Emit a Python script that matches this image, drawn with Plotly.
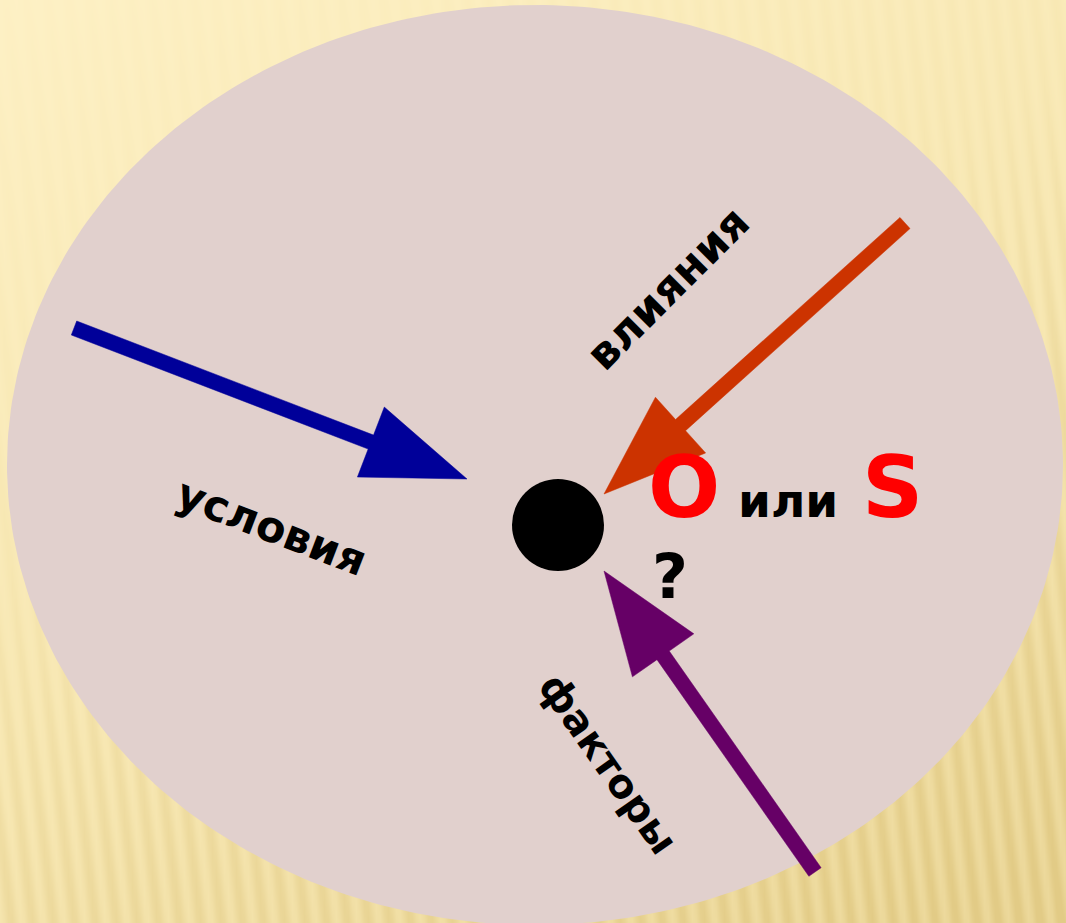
import numpy as np
import plotly.graph_objects as go

W, H = 1066, 923

# ---- diagram content ----
ellipse_box = [7, 5, 1063, 925]          # x0, y0, x1, y1
ellipse_color = "#E1D0CD"

arrow_names = ["условия", "влияния", "факторы"]
arrow_tails = [(74, 328), (905, 223), (815, 872)]
arrow_tips = [(467, 479), (604, 494), (604, 571)]
arrow_colors = ["#000099", "#CC3300", "#660066"]
shaft_width = 15
head_width = 75
head_length = 103

dot_center = (558, 525)
dot_diameter = 92

label_texts = ["условия", "влияния", "факторы"]
label_pos = [(272, 527), (667, 288), (608, 763)]
label_angles = [21, -45, 55]
label_sizes = [43, 44, 40]

letters = ["O", "или", "S", "?"]
letters_pos = [(684, 487), (788, 500), (892, 487), (670, 576)]
letters_colors = ["#FF0000", "#000000", "#FF0000", "#000000"]
letters_sizes = [85, 47, 85, 62]

FONT = "DejaVu Sans"

fig = go.Figure()

# ---- background texture (decorative) ----
bx = np.arange(-4, W + 8, 4)
by = np.arange(-8, H + 16, 8)
X, Y = np.meshgrid(bx, by)
t = np.clip(0.35 * X / W + 0.65 * Y / H, 0, 1)
stripe = np.sin(2 * np.pi * (X - 0.12 * Y) / 21.0)
z = t + 0.16 * (0.15 + t) * stripe
fig.add_trace(go.Heatmap(
    x=bx, y=by, z=z, zsmooth="best", showscale=False, hoverinfo="skip",
    colorscale=[[0, "#FEF1C6"], [0.45, "#F7E7B2"], [1, "#E2CB86"]],
    zmin=-0.05, zmax=1.1,
))

# ---- ellipse ----
cx = (ellipse_box[0] + ellipse_box[2]) / 2
cy = (ellipse_box[1] + ellipse_box[3]) / 2
ra = (ellipse_box[2] - ellipse_box[0]) / 2
rb = (ellipse_box[3] - ellipse_box[1]) / 2
th = np.linspace(0, 2 * np.pi, 361)
fig.add_trace(go.Scatter(
    x=cx + ra * np.cos(th), y=cy + rb * np.sin(th), mode="lines",
    fill="toself", fillcolor=ellipse_color, line=dict(width=0, color=ellipse_color),
    hoverinfo="skip", showlegend=False,
))

# ---- arrows ----
def arrow_polygon(tail, tip):
    T = np.array(tail, float)
    P = np.array(tip, float)
    u = (P - T) / np.linalg.norm(P - T)
    n = np.array([-u[1], u[0]])
    B = P - u * head_length
    pts = [T + n * shaft_width / 2, B + n * shaft_width / 2, B + n * head_width / 2,
           P, B - n * head_width / 2, B - n * shaft_width / 2, T - n * shaft_width / 2,
           T + n * shaft_width / 2]
    return [p[0] for p in pts], [p[1] for p in pts]

for name, tl, tp, col in zip(arrow_names, arrow_tails, arrow_tips, arrow_colors):
    ax, ay = arrow_polygon(tl, tp)
    fig.add_trace(go.Scatter(
        x=ax, y=ay, mode="lines", fill="toself", fillcolor=col,
        line=dict(width=0.5, color=col), name=name, hoverinfo="skip", showlegend=False,
    ))

# ---- dot ----
fig.add_trace(go.Scatter(
    x=[dot_center[0]], y=[dot_center[1]], mode="markers",
    marker=dict(size=dot_diameter, color="black", line=dict(width=0)),
    hoverinfo="skip", showlegend=False,
))

# ---- labels ----
for txt, (x, y), ang, sz in zip(label_texts, label_pos, label_angles, label_sizes):
    fig.add_annotation(x=x, y=y, text=f"<b>{txt}</b>", textangle=ang, showarrow=False,
                       xanchor="center", yanchor="middle",
                       font=dict(family=FONT, size=sz, color="black"))

for txt, (x, y), col, sz in zip(letters, letters_pos, letters_colors, letters_sizes):
    fig.add_annotation(x=x, y=y, text=f"<b>{txt}</b>", showarrow=False,
                       xanchor="center", yanchor="middle",
                       font=dict(family=FONT, size=sz, color=col))

fig.update_xaxes(range=[0, W], visible=False, fixedrange=True)
fig.update_yaxes(range=[H, 0], visible=False, fixedrange=True)
fig.update_layout(
    width=W, height=H, margin=dict(l=0, r=0, t=0, b=0),
    paper_bgcolor="#F7E7B2", plot_bgcolor="#F7E7B2", showlegend=False,
)
fig.write_html("out.html", config={"displayModeBar": False},
               post_script="document.body.style.margin='0';document.body.style.overflow='hidden';")
